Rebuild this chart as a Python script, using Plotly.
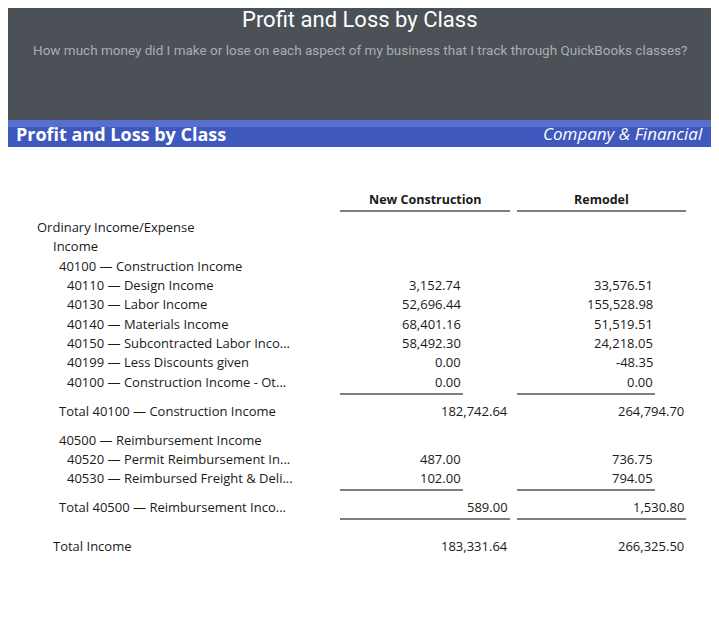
import plotly.graph_objects as go

# the page body has an 8px margin, so the figure is drawn inside it
OFF = 8
W, H = 719 - 2 * OFF, 622 - 2 * OFF

# report rows: label, indent level, new construction, remodel, kind
labels = ["Ordinary Income/Expense", "Income", "40100 — Construction Income",
          "40110 — Design Income", "40130 — Labor Income", "40140 — Materials Income",
          "40150 — Subcontracted Labor Inco...", "40199 — Less Discounts given",
          "40100 — Construction Income - Ot...", "Total 40100 — Construction Income",
          "40500 — Reimbursement Income", "40520 — Permit Reimbursement In...",
          "40530 — Reimbursed Freight & Deli...", "Total 40500 — Reimbursement Inco...",
          "Total Income"]
indent = [0, 1, 2, 3, 3, 3, 3, 3, 3, 2, 2, 3, 3, 2, 1]
new_construction = [None, None, None, 3152.74, 52696.44, 68401.16, 58492.30, 0.00, 0.00,
                    182742.64, None, 487.00, 102.00, 589.00, 183331.64]
remodel = [None, None, None, 33576.51, 155528.98, 51519.51, 24218.05, -48.35, 0.00,
           264794.70, None, 736.75, 794.05, 1530.80, 266325.50]
is_total = [False] * 9 + [True] + [False] * 3 + [True, True]
row_y = [227, 246, 266, 285, 304, 324, 343, 362, 382, 411, 440, 459, 478, 507, 546]
columns = ["New Construction", "Remodel"]


def py(p):
    return 1 - (p - OFF) / H


def px_(p):
    return (p - OFF) / W


fig = go.Figure()
shapes = []
ann = []

# header bands
shapes.append(dict(type="rect", xref="paper", yref="paper", x0=-0.02, x1=1.02, y0=py(120), y1=1.02,
                   fillcolor="#4b5157", line_width=0, layer="below"))
shapes.append(dict(type="rect", xref="paper", yref="paper", x0=-0.02, x1=1.02, y0=py(147), y1=py(120),
                   fillcolor="#3e58bd", line_width=0, layer="below"))
shapes.append(dict(type="rect", xref="paper", yref="paper", x0=-0.02, x1=1.02, y0=py(127), y1=py(120),
                   fillcolor="#5670d0", line_width=0, layer="below"))

ann.append(dict(text="Profit and Loss by Class", x=px_(359.5), y=py(19), xanchor="center", yanchor="middle",
                font=dict(family="Roboto", size=22, color="white")))
ann.append(dict(text="How much money did I make or lose on each aspect of my business that I track through QuickBooks classes?",
                x=px_(359.5), y=py(50), xanchor="center", yanchor="middle",
                font=dict(family="Roboto", size=13.5, color="#a9adb1")))
ann.append(dict(text="<b>Profit and Loss by Class</b>", x=px_(14), y=py(134), xanchor="left", yanchor="middle",
                font=dict(family="Open Sans", size=18, color="white")))
ann.append(dict(text="<i>Company & Financial</i>", x=px_(705), y=py(134), xanchor="right", yanchor="middle",
                font=dict(family="Open Sans", size=17, color="white")))

font = dict(family="Open Sans", size=13, color="#1a1a1a")
col_centers = [425, 601]
for c, name in zip(col_centers, columns):
    ann.append(dict(text="<b>" + name + "</b>", x=px_(c), y=py(199), xanchor="center", yanchor="middle",
                    font=dict(family="Open Sans", size=12.5, color="#1a1a1a")))

indent_x = [35, 51, 57, 65]
for i, lab in enumerate(labels):
    x0 = indent_x[indent[i]]
    ann.append(dict(text=lab, x=px_(x0), y=py(row_y[i]),
                    xanchor="left", yanchor="middle", font=font))
    for vals, xd, xt in [(new_construction, 463, 510), (remodel, 655, 686)]:
        v = vals[i]
        if v is None:
            continue
        ann.append(dict(text=f"{v:,.2f}", x=px_(xt if is_total[i] else xd), y=py(row_y[i]),
                        xanchor="right", yanchor="middle", font=font))


def hline(y, x0, x1):
    shapes.append(dict(type="line", xref="paper", yref="paper", x0=px_(x0), x1=px_(x1),
                       y0=py(y), y1=py(y), line=dict(color="#555", width=1.5)))


hline(211, 340, 510); hline(211, 517, 686)
hline(394, 340, 463); hline(394, 517, 655)
hline(490, 340, 463); hline(490, 517, 655)
hline(519, 340, 510); hline(519, 517, 686)

for a in ann:
    a.update(xref="paper", yref="paper", showarrow=False)

fig.update_layout(width=W, height=H, margin=dict(l=0, r=0, t=0, b=0),
                  paper_bgcolor="white", plot_bgcolor="white",
                  xaxis=dict(visible=False), yaxis=dict(visible=False),
                  shapes=shapes, annotations=ann, showlegend=False)
fig.write_html("out.html")
